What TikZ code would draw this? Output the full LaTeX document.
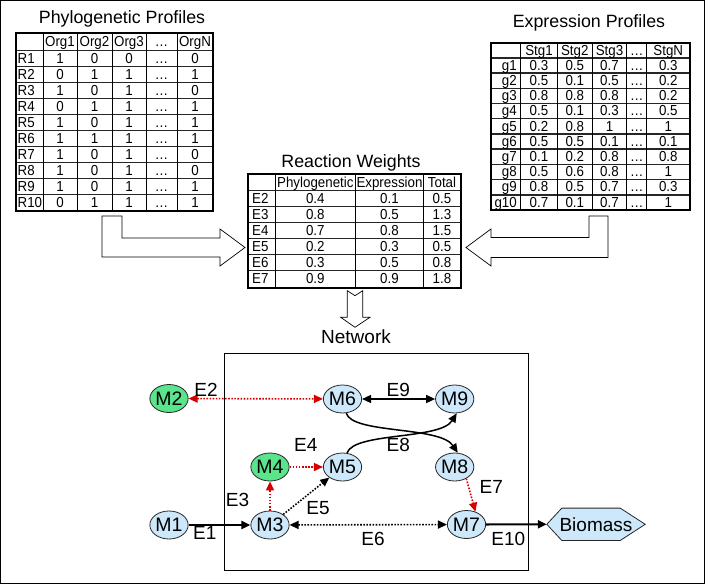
\documentclass[tikz,border=0pt]{standalone}
\usepackage{fontspec}
\setmainfont{Liberation Sans}
\newfontfamily\narrowsans[FakeStretch=0.92]{Liberation Sans}
\usetikzlibrary{arrows.meta,shapes.geometric,backgrounds}
\definecolor{nodeblue}{RGB}{204,232,250}
\definecolor{nodegreen}{RGB}{90,228,140}
\definecolor{edgered}{RGB}{214,0,0}
\tikzset{
  met/.style={ellipse,draw=black!85,line width=0.8pt,fill=nodeblue,minimum width=37pt,minimum height=28pt,inner sep=0pt,font=\fontsize{19.5}{20}\selectfont},
  metg/.style={met,fill=nodegreen},
  lbl/.style={anchor=base,inner sep=0pt,font=\fontsize{19}{20}\selectfont},
  ttl/.style={anchor=base,inner sep=0pt,font=\fontsize{17.8}{20}\selectfont},
  cell/.style={anchor=base,inner sep=0pt,font=\narrowsans\fontsize{14.5}{15}\selectfont},
  hline/.style={line width=1.4pt,draw=black!85},
  vline/.style={line width=1pt,draw=black},
  tframe/.style={line width=2pt,draw=black},
  barrow/.style={draw=black,line width=0.7pt,fill=white},
  tipe/.style={-{Triangle[length=9pt,width=8pt]}},
  tipb/.style={{Triangle[length=9pt,width=8pt]}-{Triangle[length=9pt,width=8pt]}},
  reddot/.style={draw=edgered,fill=none,color=edgered,line width=1.6pt,dash pattern=on 1.6pt off 1.5pt},
  blackdot/.style={draw=black,line width=1.6pt,dash pattern=on 1.6pt off 1.5pt},
  solidline/.style={draw=black,line width=1.5pt},
  thickline/.style={draw=black,line width=2.1pt}
}
\begin{document}
\begin{tikzpicture}[x=1pt,y=-1pt]
\useasboundingbox (0,0) rectangle (705,584);
\draw[line width=1pt] (0.5,0.5) rectangle (704.5,583.5);

% ---------------- Phylogenetic Profiles ----------------
\node[ttl] (tphy) at (122,23.3) {Phylogenetic Profiles};
\foreach \yy in {50.7,66.7,82.7,98.7,114.7,130.7,146.7,162.7,178.7,194.7}
  \draw[hline] (16,\yy) -- (213,\yy);
\foreach \xx in {43,77,112,146,177}
  \draw[vline] (\xx,33) -- (\xx,210.7);
\draw[tframe] (16,33) rectangle (213,210.7);
\foreach \t/\xx [count=\i] in {Org1/60,Org2/94.5,Org3/129,{\ldots}/161.5,OrgN/195}
  \node[cell] (ph\i) at (\xx,46.8) {\t};
\foreach \lab/\va/\vb/\vc/\vn [count=\r] in {R1/1/0/0/0,R2/0/1/1/1,R3/1/0/1/0,R4/0/1/1/1,R5/1/0/1/1,R6/1/1/1/1,R7/1/0/1/0,R8/1/0/1/0,R9/1/0/1/1,R10/0/1/1/1}{
  \pgfmathsetmacro\yb{63.7+16*(\r-1)}
  \node[cell,anchor=base west] (pr\r) at (17.5,\yb) {\lab};
  \node[cell] (pa\r) at (60,\yb) {\va};
  \node[cell] (pb\r) at (94.5,\yb) {\vb};
  \node[cell] (pc\r) at (129,\yb) {\vc};
  \node[cell] (pd\r) at (161.5,\yb) {\ldots};
  \node[cell] (pn\r) at (195,\yb) {\vn};
}

% ---------------- Expression Profiles ----------------
\node[ttl] (texp) at (589,27.3) {Expression Profiles};
\foreach \k in {1,...,10}{
  \pgfmathsetmacro\yy{42.7+15.21*\k}
  \draw[hline] (490.7,\yy) -- (690,\yy);
}
\foreach \xx in {520.7,557.3,592.3,626.7,646.7}
  \draw[vline] (\xx,42.7) -- (\xx,210);
\draw[tframe] (490.7,42.7) rectangle (690,210);
\foreach \t/\xx [count=\i] in {Stg1/539,Stg2/574.8,Stg3/609.5,{\ldots}/636.7,StgN/668.3}
  \node[cell] (eh\i) at (\xx,55) {\t};
\foreach \lab/\va/\vb/\vc/\vn [count=\r] in {g1/0.3/0.5/0.7/0.3,g2/0.5/0.1/0.5/0.2,g3/0.8/0.8/0.8/0.2,g4/0.5/0.1/0.3/0.5,g5/0.2/0.8/1/1,g6/0.5/0.5/0.1/0.1,g7/0.1/0.2/0.8/0.8,g8/0.5/0.6/0.8/1,g9/0.8/0.5/0.7/0.3,g10/0.7/0.1/0.7/1}{
  \pgfmathsetmacro\yb{55+15.21*\r}
  \node[cell,anchor=base east] (er\r) at (517,\yb) {\lab};
  \node[cell] (ea\r) at (539,\yb) {\va};
  \node[cell] (eb\r) at (574.8,\yb) {\vb};
  \node[cell] (ec\r) at (609.5,\yb) {\vc};
  \node[cell] (ed\r) at (636.7,\yb) {\ldots};
  \node[cell] (en\r) at (668.3,\yb) {\vn};
}

% ---------------- Reaction Weights ----------------
\node[ttl] (trw) at (351,167.3) {Reaction Weights};
\foreach \k in {0,...,5}{
  \pgfmathsetmacro\yy{190.3+16*\k}
  \draw[hline] (247.7,\yy) -- (460.7,\yy);
}
\foreach \xx in {275,355.7,423.3}
  \draw[vline] (\xx,174.3) -- (\xx,288.3);
\draw[tframe] (247.7,174.3) rectangle (460.7,288.3);
\foreach \t/\xx [count=\i] in {Phylogenetic/315.35,Expression/389.5,Total/442}
  \node[cell] (rh\i) at (\xx,187.3) {\t};
\foreach \lab/\va/\vb/\vc [count=\r] in {E2/0.4/0.1/0.5,E3/0.8/0.5/1.3,E4/0.7/0.8/1.5,E5/0.2/0.3/0.5,E6/0.3/0.5/0.8,E7/0.9/0.9/1.8}{
  \pgfmathsetmacro\yb{187.3+16*\r}
  \node[cell,anchor=base west] (rr\r) at (252,\yb) {\lab};
  \node[cell] (ra\r) at (315.35,\yb) {\va};
  \node[cell] (rb\r) at (389.5,\yb) {\vb};
  \node[cell] (rc\r) at (442,\yb) {\vc};
}

% ---------------- block arrows ----------------
\draw[barrow] (102,216) -- (122,216) -- (122,238) -- (220,238) -- (220,229) -- (245,247.5)
  -- (220,266) -- (220,257) -- (102,257) -- cycle;
\draw[barrow] (608,216) -- (589,216) -- (589,237.5) -- (491,237.5) -- (491,229) -- (466,247.5)
  -- (491,266) -- (491,257.5) -- (608,257.5) -- cycle;
\draw[barrow] (347.3,290.7) -- (355,295.7) -- (362.7,290.7) -- (362.7,317.3) -- (370,317.3)
  -- (355,327.3) -- (340.7,317.3) -- (347.3,317.3) -- cycle;

% ---------------- Network ----------------
\node[ttl,font=\fontsize{19}{20}\selectfont] (tnet) at (356,343.3) {Network};
\draw[line width=1pt] (224,353.3) rectangle (528.3,570);

\node[met]  (M1) at (169,525) {M1};
\node[metg] (M2) at (169,398.5) {M2};
\node[met]  (M3) at (270,525) {M3};
\node[metg] (M4) at (270,467) {M4};
\node[met]  (M5) at (342.5,467) {M5};
\node[met]  (M6) at (342.5,399) {M6};
\node[met]  (M7) at (466.5,524.5) {M7};
\node[met]  (M8) at (454.7,467) {M8};
\node[met]  (M9) at (454.7,399) {M9};
\node[inner sep=0pt,minimum width=98pt,minimum height=32pt,font=\fontsize{19}{20}\selectfont] (bio) at (596,524.3) {Biomass};
\begin{scope}[on background layer]
  \draw[fill=nodeblue,draw=black!85,line width=0.8pt] (bio.west) -- ([xshift=15pt]bio.north west)
    -- ([xshift=-25pt]bio.north east) -- (bio.east) -- ([xshift=-25pt]bio.south east)
    -- ([xshift=15pt]bio.south west) -- cycle;
\end{scope}

\draw[thickline,tipe] (M1) -- (M3);
\draw[reddot,tipe] (M3) -- (M4);
\draw[reddot,tipe] (M4) -- (M5);
\draw[blackdot,tipe] (M3) -- (M5);
\draw[blackdot,tipb] (M3) -- (M7);
\draw[reddot,tipb] (M2) -- (M6);
\draw[solidline,tipb] (M6) -- (M9);
\draw[solidline,tipe] (M6.-75) .. controls (352,434) and (440,426) .. (M8.78);
\draw[solidline,tipe] (M5.72) .. controls (354,432) and (440,440) .. (M9.-82);
\draw[reddot,tipe] (M8.-45) -- (M7.55);
\draw[thickline,tipe] (M7) -- (bio.west);

\node[lbl] (lE1) at (204.7,539.3) {E1};
\node[lbl] (lE2) at (206,396.7) {E2};
\node[lbl] (lE3) at (237.5,506.7) {E3};
\node[lbl] (lE4) at (305.8,451.7) {E4};
\node[lbl] (lE5) at (318,514) {E5};
\node[lbl] (lE6) at (373,545) {E6};
\node[lbl] (lE7) at (491.3,493.3) {E7};
\node[lbl] (lE8) at (398.3,451.7) {E8};
\node[lbl] (lE9) at (398.3,396.7) {E9};
\node[lbl] (lE10) at (508.3,545) {E10};
\end{tikzpicture}
\end{document}
